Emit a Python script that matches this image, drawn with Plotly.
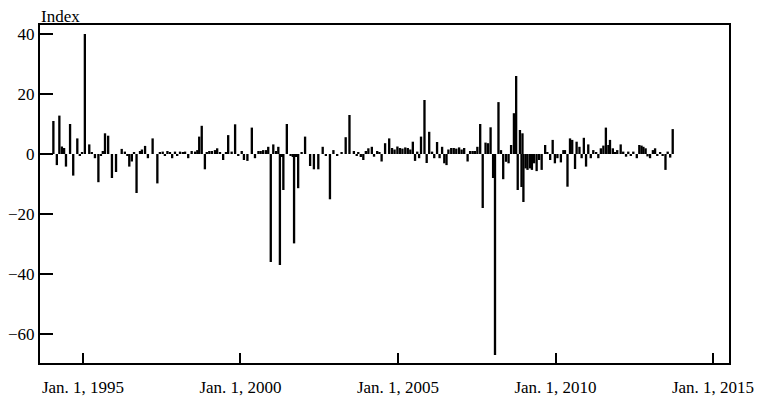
import pandas as pd
import plotly.graph_objects as go

# Event times (decimal years) and index values
event_years = [
    1994.06, 1994.17, 1994.25, 1994.33, 1994.40, 1994.46, 1994.59, 1994.69, 1994.82, 1994.90,
    1994.97, 1995.06, 1995.20, 1995.28, 1995.38, 1995.49, 1995.57, 1995.63, 1995.70, 1995.80,
    1995.92, 1996.05, 1996.23, 1996.33, 1996.41, 1996.47, 1996.55, 1996.62, 1996.70, 1996.81,
    1996.87, 1996.97, 1997.06, 1997.21, 1997.36, 1997.44, 1997.53, 1997.60, 1997.68, 1997.76,
    1997.83, 1997.92, 1997.99, 1998.08, 1998.17, 1998.24, 1998.34, 1998.45, 1998.56, 1998.63,
    1998.69, 1998.77, 1998.87, 1998.93, 1999.01, 1999.09, 1999.19, 1999.26, 1999.35, 1999.45,
    1999.54, 1999.61, 1999.72, 1999.83, 1999.93, 2000.04, 2000.11, 2000.22, 2000.36, 2000.46,
    2000.57, 2000.64, 2000.72, 2000.81, 2000.88, 2000.96, 2001.04, 2001.13, 2001.20, 2001.25,
    2001.32, 2001.36, 2001.47, 2001.59, 2001.66, 2001.70, 2001.76, 2001.83, 2001.94, 2002.05,
    2002.21, 2002.33, 2002.47, 2002.61, 2002.71, 2002.84, 2002.95, 2003.07, 2003.21, 2003.34,
    2003.46, 2003.60, 2003.69, 2003.74, 2003.82, 2003.90, 2003.98, 2004.06, 2004.17, 2004.24,
    2004.34, 2004.41, 2004.48, 2004.59, 2004.72, 2004.81, 2004.89, 2004.98, 2005.06, 2005.14,
    2005.23, 2005.31, 2005.39, 2005.47, 2005.54, 2005.61, 2005.67, 2005.73, 2005.84, 2005.91,
    2005.99, 2006.08, 2006.15, 2006.24, 2006.32, 2006.40, 2006.47, 2006.54, 2006.60, 2006.69,
    2006.77, 2006.85, 2006.94, 2007.02, 2007.10, 2007.21, 2007.29, 2007.37, 2007.44, 2007.52,
    2007.61, 2007.69, 2007.78, 2007.86, 2007.94, 2008.02, 2008.08, 2008.19, 2008.27, 2008.34,
    2008.43, 2008.51, 2008.59, 2008.68, 2008.75, 2008.80, 2008.87, 2008.92, 2008.95, 2008.98,
    2009.05, 2009.11, 2009.19, 2009.25, 2009.32, 2009.40, 2009.48, 2009.56, 2009.67, 2009.74,
    2009.83, 2009.91, 2009.98, 2010.06, 2010.17, 2010.25, 2010.30, 2010.38, 2010.46, 2010.53,
    2010.62, 2010.67, 2010.76, 2010.83, 2010.90, 2010.97, 2011.04, 2011.12, 2011.20, 2011.29,
    2011.36, 2011.44, 2011.52, 2011.60, 2011.68, 2011.73, 2011.82, 2011.89, 2011.96, 2012.07,
    2012.15, 2012.24, 2012.31, 2012.39, 2012.47, 2012.58, 2012.66, 2012.73, 2012.79, 2012.86,
    2012.92, 2013.00, 2013.09, 2013.16, 2013.23, 2013.32, 2013.40, 2013.49, 2013.56, 2013.64,
    2013.72,
]

index_values = [
    11.0, -3.7, 12.8, 2.5, 2.0, -4.2, 10.0, -7.2, 5.2, -0.5,
    0.5, 40.0, 3.2, 0.5, -1.4, -9.4, -0.5, 1.0, 6.9, 6.1,
    -8.0, -6.0, 1.7, 0.8, -0.5, -4.2, -2.5, 0.5, -13.0, 1.0,
    1.5, 2.7, -1.4, 5.2, -9.8, 0.5, 0.8, -0.5, 1.0, 0.5,
    -1.4, 0.8, -0.5, 0.8, 0.5, 0.8, -1.4, 1.0, 0.8, 1.3,
    5.8, 9.4, -5.1, 0.5, 1.0, 1.0, 1.3, 1.9, 0.5, -2.0,
    0.5, 6.3, 0.8, 9.9, -0.5, 1.0, -2.0, -2.3, 8.8, -1.4,
    1.0, 1.0, 1.3, 1.3, 2.4, -36.0, 3.2, 1.0, 2.4, -37.0,
    -1.0, -12.0, 10.0, -0.5, -1.0, -29.8, -1.0, -11.4, 0.5, 5.8,
    -4.0, -5.1, -5.1, 2.4, -0.5, -15.1, 1.3, -0.5, 0.5, 5.6,
    13.0, 1.0, -0.5, 0.5, -1.0, -2.0, 1.0, 1.9, 2.4, -0.9,
    1.0, 0.5, -2.5, 3.6, 5.2, 2.0, 1.5, 2.5, 2.0, 1.8,
    2.2, 2.0, 1.5, 4.1, -2.3, 0.8, -1.4, 5.8, 18.0, -3.0,
    7.4, 0.8, -1.4, 4.0, -1.4, 2.4, -3.1, -3.7, 1.5, 2.0,
    2.0, 1.8, 2.2, 1.5, 2.0, -2.5, 1.0, 1.0, 1.0, 2.4,
    10.0, -18.0, 3.8, 3.6, 8.9, -8.0, -67.0, 17.3, 1.3, -8.4,
    -2.6, -3.1, 3.0, 13.6, 26.0, -12.0, 8.0, -11.0, 6.9, -16.0,
    -4.8, -5.3, -4.8, -5.3, -3.1, -5.7, -2.0, -5.3, 3.0, 0.5,
    -2.0, 4.7, -3.1, -1.4, -2.8, 1.3, 1.3, -10.9, 5.2, 4.7,
    -5.0, 4.1, 2.4, -1.4, 5.4, -4.2, 3.2, -1.4, 1.3, 0.5,
    -1.4, 1.9, 2.8, 8.8, 3.0, 4.7, 1.9, 0.5, 1.3, 3.2,
    0.8, -0.9, 0.8, -0.5, 0.8, -1.4, 3.0, 2.8, 2.4, 1.9,
    -0.8, -1.4, 1.3, 1.9, -0.5, 0.5, -0.5, -5.3, 0.8, -1.2,
    8.3,
]

tick_years = [1995, 2000, 2005, 2010, 2015]
tick_labels = ["Jan. 1, 1995", "Jan. 1, 2000", "Jan. 1, 2005", "Jan. 1, 2010", "Jan. 1, 2015"]
y_ticks = [-60, -40, -20, 0, 20, 40]
y_labels = ["\u221260", "\u221240", "\u221220", "0", "20", "40"]


def to_ts(t):
    y = int(t)
    start = pd.Timestamp(y, 1, 1)
    end = pd.Timestamp(y + 1, 1, 1)
    return start + (end - start) * (t - y)


dates = [to_ts(t) for t in event_years]
FONT = "'Liberation Serif', 'Times New Roman', serif"
bar_width_ms = 27 * 86400000

fig = go.Figure(
    go.Bar(
        x=dates,
        y=index_values,
        width=[bar_width_ms] * len(dates),
        marker=dict(color="black", line=dict(width=0)),
    )
)

fig.update_layout(
    width=759,
    height=397,
    margin=dict(l=40, r=30, t=25, b=34, autoexpand=False),
    paper_bgcolor="white",
    plot_bgcolor="white",
    showlegend=False,
    font=dict(family=FONT, size=17, color="black"),
    annotations=[
        dict(
            text="Index",
            xref="paper", yref="paper",
            x=0, y=1,
            xanchor="left", yanchor="bottom",
            showarrow=False,
            font=dict(family=FONT, size=17, color="black"),
            xshift=-1,
            yshift=-3,
        )
    ],
)

fig.update_xaxes(
    type="date",
    range=[to_ts(1993.635), to_ts(2015.508)],
    tickvals=[pd.Timestamp(y, 1, 1) for y in tick_years],
    ticktext=tick_labels,
    ticks="inside",
    ticklen=10,
    tickwidth=2,
    tickcolor="black",
    showline=True,
    linewidth=2,
    linecolor="black",
    mirror=True,
    showgrid=False,
    zeroline=False,
    automargin=False,
    ticklabelstandoff=8,
    tickfont=dict(family=FONT, size=17, color="black"),
)

fig.update_yaxes(
    range=[-69.67, 43],
    tickvals=y_ticks,
    ticktext=y_labels,
    ticks="inside",
    ticklen=13,
    tickwidth=2,
    tickcolor="black",
    showline=True,
    linewidth=2,
    linecolor="black",
    mirror=True,
    showgrid=False,
    zeroline=False,
    automargin=False,
    tickfont=dict(family=FONT, size=17, color="black"),
)

fig.write_html("out.html")
